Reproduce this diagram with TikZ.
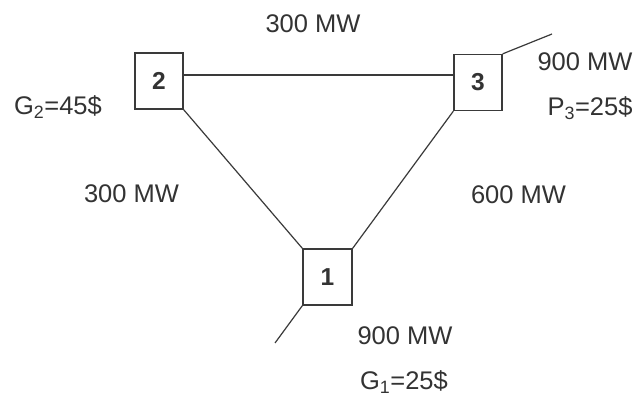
\documentclass[tikz,border=0pt]{standalone}
\usepackage{fontspec}
\setmainfont{Liberation Sans}
\definecolor{ink}{HTML}{333333}
\definecolor{wire}{HTML}{3A3A3A}
\begin{document}
\begin{tikzpicture}[x=1pt,y=-1pt,
  bus/.style={draw=wire,line width=1.3pt,minimum width=48pt,minimum height=56pt,inner sep=0pt,
    font=\fontsize{24.5}{26}\selectfont\bfseries,text=ink},
  lbl/.style={font=\fontsize{25.5}{28}\selectfont,text=ink,inner sep=0pt},
  line/.style={draw=wire,line width=1.2pt}]
\useasboundingbox[fill=white] (0,0) rectangle (637,398);
\node[bus] (b2) at (159,81) {2};
\node[bus] (b3) at (478,82.5) {3};
\node[bus,minimum width=49pt] (b1) at (327.5,277) {1};
\coordinate (s3) at (552,34);
\coordinate (s1) at (275,343);
\draw[line] ([yshift=6pt]b2.east) -- ([yshift=7.5pt]b3.west);
\draw[line] (b2.south east) -- (b1.north west);
\draw[line] (b3.south west) -- (b1.north east);
\draw[line] (b3.north east) -- (s3);
\draw[line] (b1.south west) -- (s1);
\node[lbl] (t23) at (313,24) {300 MW};
\node[lbl] (g2) at (58,107) {G\textsubscript{2}=45\$};
\node[lbl] (t12) at (131.5,194) {300 MW};
\node[lbl] (t13) at (518.5,195) {600 MW};
\node[lbl] (p3m) at (585,62) {900 MW};
\node[lbl] (p3) at (590,108) {P\textsubscript{3}=25\$};
\node[lbl] (p1m) at (405,336) {900 MW};
\node[lbl] (g1) at (404,382) {G\textsubscript{1}=25\$};
\end{tikzpicture}
\end{document}
